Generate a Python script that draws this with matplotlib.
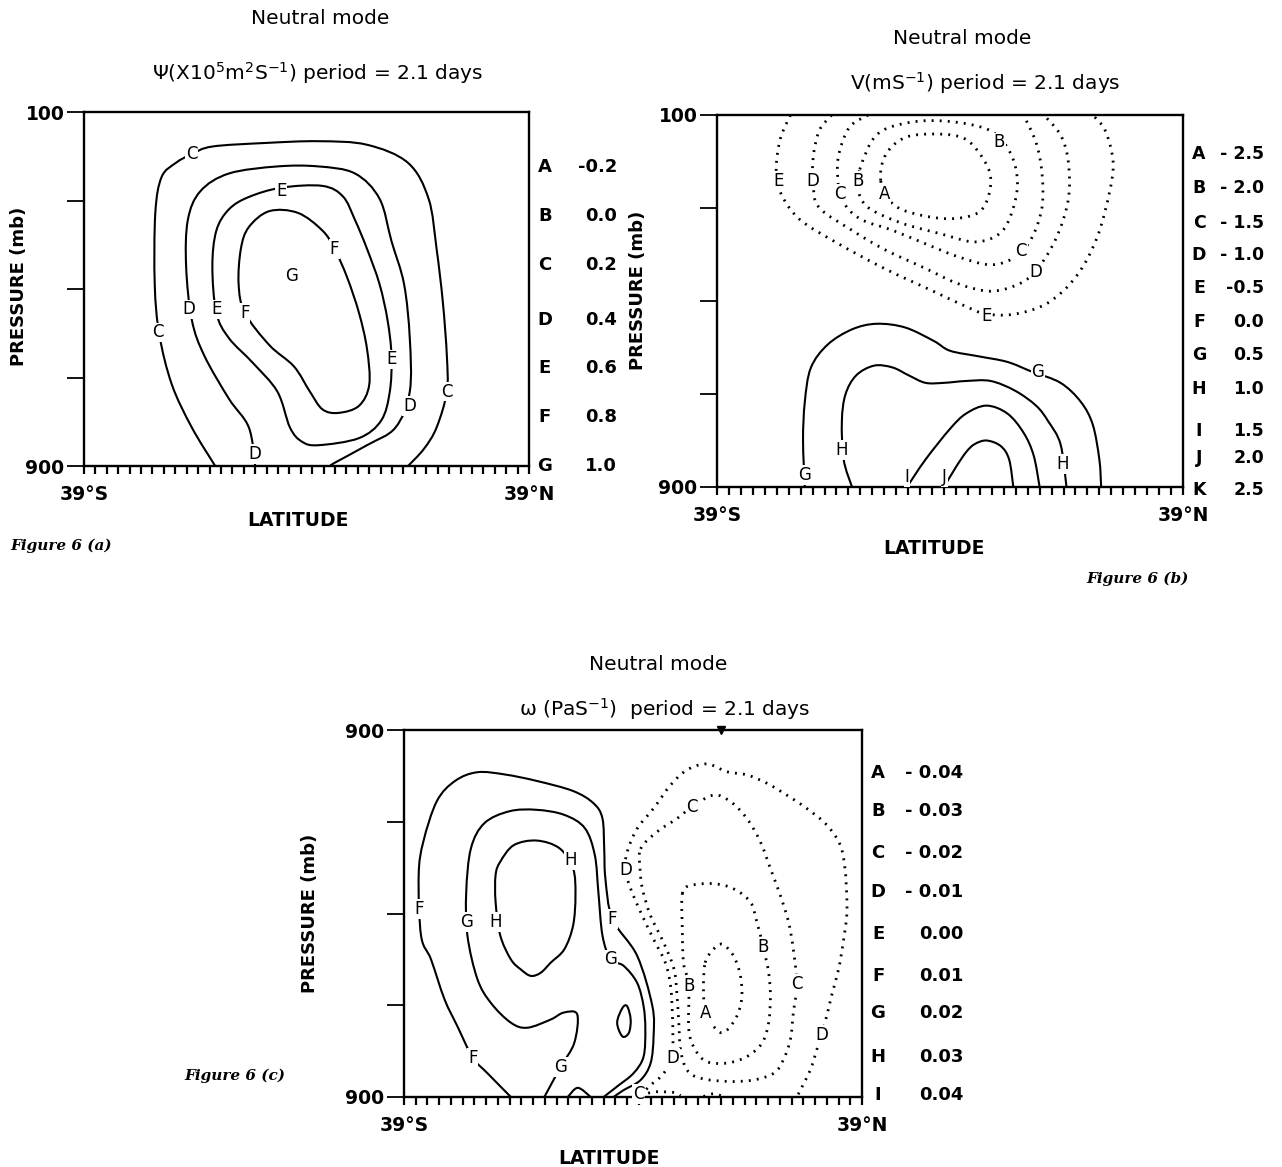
import numpy as np
import matplotlib
matplotlib.use("Agg")
import matplotlib.pyplot as plt
from matplotlib.path import Path
from matplotlib.patches import PathPatch

plt.rcParams['font.family'] = ['DejaVu Sans']
plt.rcParams['mathtext.default'] = 'regular'

W, H = 1282, 1167

# ---------------- Figure 6(a): psi, contours as (latitude, pressure) ----------------
psi_C = [(-16.0, 900), (-20.1, 813), (-23.6, 716), (-25.8, 603), (-26.6, 490), (-26.5, 328),
         (-25.4, 247), (-22.9, 215), (-20.1, 195), (-16.5, 178), (-7.2, 170), (2.1, 166),
         (10.6, 174), (17.8, 215), (21.4, 296), (22.8, 409), (23.9, 530), (24.6, 651),
         (24.6, 732), (22.8, 813), (20.6, 861), (17.8, 900)]
psi_D = [(-9.0, 900), (-10.1, 813), (-13.6, 748), (-17.9, 651), (-20.1, 570), (-21.1, 449),
         (-20.8, 344), (-18.6, 279), (-13.6, 239), (-5.1, 223), (2.1, 223), (8.5, 239),
         (12.8, 296), (14.9, 392), (17.1, 489), (18.1, 611), (18.1, 732), (15.6, 813),
         (10.6, 853), (4.9, 893), (4.2, 900)]
psi_E = [(-4.4, 271), (2.8, 267), (6.4, 291), (8.5, 344), (10.6, 409), (12.8, 489), (14.2, 570),
         (14.9, 651), (14.6, 732), (13.1, 797), (9.2, 837), (2.1, 853), (-0.8, 845), (-2.9, 813),
         (-5.1, 732), (-9.4, 667), (-13.6, 611), (-15.8, 554), (-16.5, 449), (-15.8, 368),
         (-13.6, 320), (-10.1, 292)]
psi_F = [(-6.5, 324), (-1.5, 328), (2.8, 368), (4.9, 409), (7.1, 473), (9.2, 554), (10.6, 635),
         (11.0, 716), (9.2, 764), (5.6, 780), (2.8, 772), (0.6, 732), (-2.2, 675), (-6.5, 627),
         (-10.8, 554), (-11.9, 489), (-11.5, 409), (-10.1, 360)]
psi_labels = [('C', -20.1, 195), ('C', -26.1, 598), ('C', 24.6, 732), ('D', -20.6, 546),
              ('D', -9.0, 873), ('D', 18.1, 764), ('E', -4.4, 279), ('E', -15.8, 546),
              ('E', 14.9, 659), ('F', -10.8, 554), ('F', 4.9, 409), ('G', -2.6, 470)]
psi_keys = ['A', 'B', 'C', 'D', 'E', 'F', 'G']
psi_vals = ['-0.2', '0.0', '0.2', '0.4', '0.6', '0.8', '1.0']

# ---------------- Figure 6(b): v ----------------
v_A = [(-11.6, 241), (-10.7, 184), (-7.4, 148), (-1.8, 141), (2.6, 152), (5.4, 191), (6.8, 234),
       (6.2, 284), (4.3, 313), (-0.2, 323), (-5.7, 313), (-9.6, 291)]
v_B = [(-15.1, 217), (-12.3, 143), (-6.8, 116), (0.0, 114), (6.8, 134), (10.2, 184), (11.3, 249),
       (10.2, 315), (8.2, 356), (4.1, 373), (-1.4, 356), (-8.2, 332), (-13.7, 299), (-15.4, 260)]
v_C = [(-13.7, 100), (-16.8, 126), (-18.6, 184), (-18.8, 233), (-18.1, 282), (-15.1, 323),
       (-9.6, 348), (-4.1, 377), (1.4, 405), (6.8, 422), (11.0, 405), (13.7, 364), (15.4, 299),
       (15.4, 225), (14.4, 159), (12.3, 100)]
v_D = [(-19.8, 100), (-21.9, 134), (-22.9, 192), (-22.9, 249), (-21.9, 299), (-16.4, 348),
       (-11.0, 389), (-4.1, 430), (1.4, 463), (6.8, 479), (11.6, 463), (14.7, 430), (17.8, 364),
       (19.8, 282), (19.8, 200), (18.5, 143), (15.7, 100)]
v_E = [(-26.7, 100), (-28.4, 151), (-29.1, 217), (-28.4, 266), (-25.3, 323), (-19.2, 373),
       (-11.0, 430), (-2.8, 479), (2.7, 512), (6.1, 528), (10.9, 528), (16.4, 504), (21.2, 446),
       (24.6, 364), (26.7, 266), (27.3, 200), (26.0, 134), (23.9, 100)]
v_G = [(-24.3, 900), (-24.6, 800), (-24.3, 717), (-23.3, 644), (-20.5, 594), (-16.4, 561),
       (-12.3, 549), (-7.5, 557), (-2.7, 586), (0.0, 607), (4.8, 619), (9.6, 631), (13.7, 652),
       (18.5, 676), (21.9, 717), (23.9, 766), (25.0, 841), (25.3, 900)]
v_H = [(-16.4, 900), (-17.8, 841), (-18.1, 759), (-17.5, 701), (-15.7, 660), (-12.7, 639),
       (-9.6, 643), (-6.9, 660), (-4.1, 676), (-1.0, 676), (2.7, 672), (6.8, 672), (10.9, 693),
       (14.4, 725), (16.4, 758), (18.5, 808), (19.5, 900)]
v_I = [(-7.2, 900), (-4.1, 841), (0.0, 775), (2.7, 742), (6.1, 725), (9.6, 742), (12.3, 783),
       (14.0, 832), (15.0, 900)]
v_J = [(-1.0, 900), (1.0, 857), (2.7, 825), (4.1, 808), (6.1, 800), (8.5, 812), (9.9, 841),
       (10.6, 900)]
v_labels = [('A', -11.0, 270), ('B', -15.4, 241), ('B', 8.2, 159), ('C', -18.5, 270),
            ('C', 11.9, 393), ('D', -22.9, 241), ('D', 14.4, 438), ('E', -28.7, 241),
            ('E', 6.1, 533), ('G', -24.3, 874), ('G', 14.7, 652), ('H', -18.2, 821),
            ('H', 18.8, 850), ('I', -7.2, 878), ('J', -0.9, 878)]
v_keys = ['A', 'B', 'C', 'D', 'E', 'F', 'G', 'H', 'I', 'J', 'K']
v_vals = ['- 2.5', '- 2.0', '- 1.5', '- 1.0', '-0.5', '0.0', '0.5', '1.0', '1.5', '2.0', '2.5']

# ---------------- Figure 6(c): omega ----------------
w_F = [(-20.8, 900), (-24.8, 848), (-27.3, 814), (-29.9, 746), (-32.1, 687), (-34.4, 600),
       (-36.1, 548), (-36.5, 416), (-35.7, 343), (-33.4, 255), (-30.3, 211), (-26.5, 192),
       (-21.8, 197), (-16.4, 211), (-10.2, 233), (-6.7, 260), (-5.2, 293), (-4.9, 360),
       (-4.7, 424), (-3.5, 512), (0.7, 592), (3.3, 702), (3.5, 768), (3.0, 826), (1.3, 863),
       (-1.6, 885), (-3.3, 900)]
w_G = [(-15.1, 900), (-12.3, 834), (-10.0, 782), (-9.5, 720), (-11.8, 716), (-14.0, 731),
       (-18.0, 749), (-20.8, 738), (-24.2, 695), (-26.5, 643), (-28.2, 548), (-28.4, 453),
       (-27.6, 358), (-25.3, 303), (-21.0, 277), (-16.4, 274), (-11.7, 285), (-8.2, 314),
       (-6.5, 373), (-5.9, 453), (-5.2, 548), (-3.8, 600), (-1.6, 614), (0.7, 651), (1.8, 702),
       (2.1, 753), (1.8, 812), (0.1, 848), (-2.7, 877), (-5.0, 900)]
w_H = [(-22.6, 387), (-20.3, 351), (-16.4, 341), (-12.5, 358), (-10.2, 402), (-9.8, 460),
       (-10.2, 526), (-11.7, 578), (-14.0, 607), (-15.7, 629), (-17.4, 636), (-19.1, 622),
       (-20.8, 600), (-22.6, 548), (-23.4, 475), (-23.4, 416)]
w_H2 = [(-2.7, 738), (-1.8, 706), (-1.0, 702), (-0.4, 731), (-0.7, 760), (-1.8, 768)]
w_bump = [(-11.1, 900), (-9.4, 880), (-7.2, 900)]
w_A = [(12.3, 607), (13.7, 578), (15.2, 567), (17.1, 592), (18.3, 636), (18.5, 687), (17.4, 731),
       (15.2, 760), (13.2, 738), (12.3, 717), (12.0, 665)]
w_B = [(8.4, 457), (9.8, 439), (13.7, 435), (17.1, 446), (20.0, 475), (21.1, 519), (22.2, 574),
       (23.1, 629), (23.4, 680), (23.1, 738), (22.0, 782), (19.4, 812), (16.0, 826), (12.6, 823),
       (10.6, 797), (9.5, 753), (9.5, 658), (8.6, 607), (8.4, 534)]
w_C = [(1.3, 359), (4.1, 322), (7.5, 293), (10.1, 267), (13.7, 242), (16.6, 256), (19.4, 293),
       (21.7, 344), (23.4, 402), (25.1, 461), (26.5, 519), (27.3, 578), (27.9, 654), (27.3, 717),
       (26.8, 775), (25.6, 819), (24.0, 848), (20.5, 863), (16.0, 866), (11.5, 859), (9.2, 841),
       (8.1, 797), (7.8, 738), (7.5, 680), (7.0, 622), (5.2, 563), (3.0, 505), (1.6, 446),
       (1.2, 402)]
w_D = [(1.3, 896), (3.0, 874), (5.0, 852), (6.7, 815), (6.8, 775), (6.7, 717), (6.4, 658),
       (5.5, 607), (3.5, 556), (1.3, 497), (-0.4, 446), (-1.3, 406), (-1.0, 366), (0.7, 315),
       (3.5, 271), (6.4, 220), (9.2, 187), (12.6, 174), (16.0, 191), (19.4, 198), (22.8, 216),
       (26.2, 242), (29.6, 271), (33.0, 307), (35.3, 351), (36.1, 402), (36.4, 461), (36.4, 505),
       (35.8, 563), (35.0, 622), (33.8, 680), (32.7, 738), (31.3, 797), (30.2, 841), (28.5, 885),
       (27.9, 900)]
w_C2 = [(1.3, 898), (3.5, 889), (6.9, 890), (8.1, 897)]
w_C3 = [(12.0, 899), (13.7, 893), (15.4, 899)]
w_labels = [('F', -27.3, 814), ('F', -36.5, 490), ('F', -3.5, 512), ('G', -12.3, 834),
            ('G', -28.4, 519), ('G', -3.8, 600), ('H', -10.6, 384), ('H', -23.4, 519),
            ('D', -1.3, 406), ('D', 6.7, 815), ('D', 32.1, 764), ('C', 10.1, 267),
            ('C', 27.9, 654), ('C', 1.0, 893), ('B', 22.2, 574), ('B', 9.5, 658), ('A', 12.3, 717)]
w_keys = ['A', 'B', 'C', 'D', 'E', 'F', 'G', 'H', 'I']
w_vals = ['- 0.04', '- 0.03', '- 0.02', '- 0.01', '0.00', '0.01', '0.02', '0.03', '0.04']

lat_ticks = np.arange(-39, 40, 2)
p_ticks = [100, 300, 500, 700, 900]


def px_axes(left, right, top, bottom):
    return fig.add_axes([left / W, 1 - bottom / H, (right - left) / W, (bottom - top) / H])


def setup(ax, top_label):
    ax.set_xlim(-39, 39)
    ax.set_ylim(900, 100)
    ax.set_yticks(p_ticks)
    ax.set_yticklabels([top_label, '', '', '', '900'], fontweight='bold')
    ax.set_xticks(lat_ticks)
    ax.set_xticklabels(['39°S'] + [''] * (len(lat_ticks) - 2) + ['39°N'], fontweight='bold')
    ax.tick_params(axis='y', direction='out', length=12, width=1.3, labelsize=13.5, pad=2)
    ax.tick_params(axis='x', direction='out', length=6, width=1.6, labelsize=13.5, pad=8)
    for s in ax.spines.values():
        s.set_linewidth(1.7)


def draw(ax, pts, dotted=False, closed=False):
    # smooth curve through the read points (cubic Bezier segments)
    p = np.array(pts, dtype=float)
    n = len(p)
    verts = [p[0]]
    codes = [Path.MOVETO]
    nseg = n if closed else n - 1
    for i in range(nseg):
        p0 = p[i - 1] if (closed or i > 0) else p[i]
        p1 = p[i]
        p2 = p[(i + 1) % n]
        p3 = p[(i + 2) % n] if (closed or i + 2 < n) else p2
        verts += [p1 + (p2 - p0) / 6, p2 - (p3 - p1) / 6, p2]
        codes += [Path.CURVE4] * 3
    if dotted:
        patch = PathPatch(Path(verts, codes), fill=False, ec='k', lw=2.0, ls=(0, (0.7, 2.2)), zorder=2)
    else:
        patch = PathPatch(Path(verts, codes), fill=False, ec='k', lw=1.5, joinstyle='round', zorder=2)
    ax.add_patch(patch)


def put_labels(ax, labels):
    for s, x, y in labels:
        ax.text(x, y, s, ha='center', va='center', fontsize=12, zorder=5,
                bbox=dict(boxstyle='square,pad=0.05', fc='white', ec='none'))


def legend(keys, vals, fracs, right, top, bottom, val_right, size=13):
    for k, v, f in zip(keys, vals, fracs):
        y = 1 - (top + f * (bottom - top)) / H
        fig.text((right + 16) / W, y, k, ha='center', va='center', fontsize=size, fontweight='bold')
        fig.text(val_right / W, y, v, ha='right', va='center', fontsize=size, fontweight='bold')


fig = plt.figure(figsize=(W / 100, H / 100), dpi=100)

# (a)
axa = px_axes(84, 529, 112, 466)
setup(axa, '100')
for c in [psi_C, psi_D]:
    draw(axa, c)
for c in [psi_E, psi_F]:
    draw(axa, c, closed=True)
put_labels(axa, psi_labels)
legend(psi_keys, psi_vals, [0.154, 0.295, 0.432, 0.588, 0.724, 0.861, 1.0], 529, 112, 466, 617)
fig.text(320 / W, 1 - 18 / H, 'Neutral mode', ha='center', va='center', fontsize=14.5)
fig.text(318 / W, 1 - 73 / H, r'Ψ(X10$^{5}$m$^{2}$S$^{-1}$) period = 2.1 days', ha='center',
         va='center', fontsize=14.5)
fig.text(19 / W, 1 - 286 / H, 'PRESSURE (mb)', rotation=90, ha='center', va='center',
         fontsize=13, fontweight='bold')
fig.text(298 / W, 1 - 521 / H, 'LATITUDE', ha='center', va='center', fontsize=13.5, fontweight='bold')
fig.text(10 / W, 1 - 546 / H, 'Figure 6 (a)', ha='left', va='center', fontsize=11,
         family='DejaVu Serif', style='italic', fontweight='bold')

# (b)
axb = px_axes(717, 1183, 115, 487)
setup(axb, '100')
for c in [v_C, v_D, v_E]:
    draw(axb, c, dotted=True)
for c in [v_A, v_B]:
    draw(axb, c, dotted=True, closed=True)
for c in [v_G, v_H, v_I, v_J]:
    draw(axb, c)
put_labels(axb, v_labels)
legend(v_keys, v_vals, [0.105, 0.197, 0.290, 0.377, 0.464, 0.556, 0.644, 0.736, 0.849, 0.921, 1.008],
       1183, 115, 487, 1264, size=12.5)
fig.text(962 / W, 1 - 39 / H, 'Neutral mode', ha='center', va='center', fontsize=14.5)
fig.text(985 / W, 1 - 83 / H, r'V(mS$^{-1}$) period = 2.1 days', ha='center', va='center',
         fontsize=14.5)
fig.text(638 / W, 1 - 290 / H, 'PRESSURE (mb)', rotation=90, ha='center', va='center',
         fontsize=13, fontweight='bold')
fig.text(934 / W, 1 - 549 / H, 'LATITUDE', ha='center', va='center', fontsize=13.5, fontweight='bold')
fig.text(1189 / W, 1 - 579 / H, 'Figure 6 (b)', ha='right', va='center', fontsize=11,
         family='DejaVu Serif', style='italic', fontweight='bold')

# (c)
axc = px_axes(404, 862, 730, 1097)
setup(axc, '900')
for c in [w_F, w_G, w_bump]:
    draw(axc, c)
for c in [w_H, w_H2]:
    draw(axc, c, closed=True)
for c in [w_D, w_C2, w_C3]:
    draw(axc, c, dotted=True)
for c in [w_A, w_B, w_C]:
    draw(axc, c, dotted=True, closed=True)
axc.plot([15.0], [100], marker='v', ms=6, color='k', clip_on=False, zorder=6)
put_labels(axc, w_labels)
legend(w_keys, w_vals, [0.116, 0.221, 0.336, 0.441, 0.556, 0.670, 0.771, 0.890, 0.995],
       862, 730, 1097, 963)
fig.text(658 / W, 1 - 665 / H, 'Neutral mode', ha='center', va='center', fontsize=14.5)
fig.text(665 / W, 1 - 709 / H, r'ω (PaS$^{-1}$)  period = 2.1 days', ha='center', va='center',
         fontsize=14.5)
fig.text(310 / W, 1 - 913 / H, 'PRESSURE (mb)', rotation=90, ha='center', va='center',
         fontsize=13, fontweight='bold')
fig.text(609 / W, 1 - 1158 / H, 'LATITUDE', ha='center', va='center', fontsize=13.5, fontweight='bold')
fig.text(285 / W, 1 - 1076 / H, 'Figure 6 (c)', ha='right', va='center', fontsize=11,
         family='DejaVu Serif', style='italic', fontweight='bold')

fig.savefig('out.png', dpi=100)
